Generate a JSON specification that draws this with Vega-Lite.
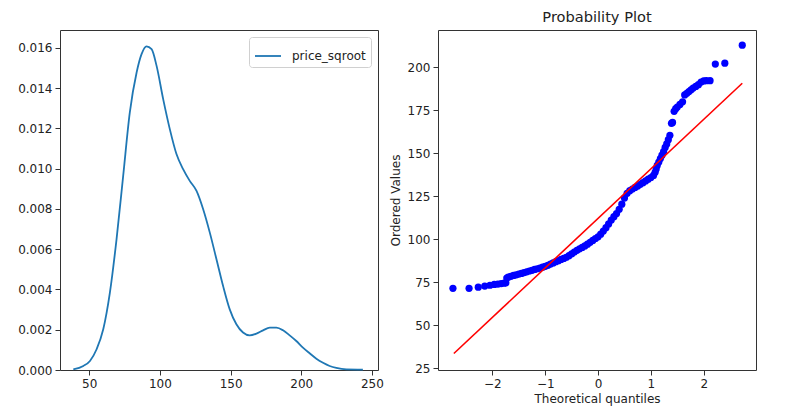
{
  "$schema": "https://vega.github.io/schema/vega-lite/v6.json",
  "background": "white",
  "padding": {"left": 4, "top": 9, "right": 5, "bottom": 5},
  "autosize": {"type": "pad"},
  "config": {
    "font": "DejaVu Sans",
    "view": {"stroke": "#333333", "strokeWidth": 1},
    "axis": {
      "grid": false, "domain": false, "tickColor": "#333333", "tickSize": 5,
      "labelFont": "DejaVu Sans", "labelFontSize": 12, "labelColor": "#222222", "labelPadding": 3,
      "titleFont": "DejaVu Sans", "titleFontSize": 12, "titleFontWeight": "normal", "titleColor": "#222222"
    },
    "title": {"font": "DejaVu Sans", "fontSize": 14.6, "fontWeight": "normal", "color": "#222222", "offset": 5}
  },
  "datasets": {
    "kde": [
      {"x": 38.7, "density": 0.00003, "series": "price_sqroot"},
      {"x": 45.8, "density": 0.0002, "series": "price_sqroot"},
      {"x": 50.5, "density": 0.00045, "series": "price_sqroot"},
      {"x": 55.2, "density": 0.00103, "series": "price_sqroot"},
      {"x": 59.9, "density": 0.00202, "series": "price_sqroot"},
      {"x": 64.6, "density": 0.00384, "series": "price_sqroot"},
      {"x": 69.3, "density": 0.00649, "series": "price_sqroot"},
      {"x": 74.0, "density": 0.00964, "series": "price_sqroot"},
      {"x": 78.7, "density": 0.01279, "series": "price_sqroot"},
      {"x": 83.5, "density": 0.01477, "series": "price_sqroot"},
      {"x": 87.0, "density": 0.01568, "series": "price_sqroot"},
      {"x": 90.5, "density": 0.01607, "series": "price_sqroot"},
      {"x": 94.1, "density": 0.01593, "series": "price_sqroot"},
      {"x": 97.6, "density": 0.01511, "series": "price_sqroot"},
      {"x": 102.3, "density": 0.01345, "series": "price_sqroot"},
      {"x": 107.0, "density": 0.01196, "series": "price_sqroot"},
      {"x": 111.7, "density": 0.01072, "series": "price_sqroot"},
      {"x": 116.4, "density": 0.00997, "series": "price_sqroot"},
      {"x": 121.1, "density": 0.00939, "series": "price_sqroot"},
      {"x": 125.9, "density": 0.00889, "series": "price_sqroot"},
      {"x": 130.6, "density": 0.00798, "series": "price_sqroot"},
      {"x": 135.3, "density": 0.00682, "series": "price_sqroot"},
      {"x": 140.0, "density": 0.0055, "series": "price_sqroot"},
      {"x": 144.7, "density": 0.00417, "series": "price_sqroot"},
      {"x": 149.4, "density": 0.00301, "series": "price_sqroot"},
      {"x": 154.1, "density": 0.00227, "series": "price_sqroot"},
      {"x": 158.8, "density": 0.00186, "series": "price_sqroot"},
      {"x": 163.5, "density": 0.00172, "series": "price_sqroot"},
      {"x": 168.3, "density": 0.00181, "series": "price_sqroot"},
      {"x": 173.0, "density": 0.00197, "series": "price_sqroot"},
      {"x": 177.7, "density": 0.0021, "series": "price_sqroot"},
      {"x": 182.4, "density": 0.0021, "series": "price_sqroot"},
      {"x": 187.1, "density": 0.00197, "series": "price_sqroot"},
      {"x": 191.8, "density": 0.00172, "series": "price_sqroot"},
      {"x": 196.5, "density": 0.00144, "series": "price_sqroot"},
      {"x": 201.2, "density": 0.00111, "series": "price_sqroot"},
      {"x": 205.9, "density": 0.00083, "series": "price_sqroot"},
      {"x": 210.7, "density": 0.00056, "series": "price_sqroot"},
      {"x": 215.4, "density": 0.00036, "series": "price_sqroot"},
      {"x": 220.1, "density": 0.0002, "series": "price_sqroot"},
      {"x": 224.8, "density": 0.0001, "series": "price_sqroot"},
      {"x": 231.9, "density": 0.00003, "series": "price_sqroot"},
      {"x": 243.6, "density": 0.00002, "series": "price_sqroot"}
    ],
    "qq": [
      {"q": -2.747, "v": 71.5}, {"q": -2.442, "v": 71.5}, {"q": -2.268, "v": 72.2}, {"q": -2.145, "v": 72.8},
      {"q": -2.047, "v": 73.3}, {"q": -1.965, "v": 73.8}, {"q": -1.896, "v": 74.0}, {"q": -1.834, "v": 74.3},
      {"q": -1.778, "v": 74.5}, {"q": -1.745, "v": 74.7}, {"q": -1.728, "v": 77.5}, {"q": -1.70, "v": 78.0},
      {"q": -1.65, "v": 78.5}, {"q": -1.60, "v": 79.0}, {"q": -1.55, "v": 79.4}, {"q": -1.50, "v": 79.8},
      {"q": -1.45, "v": 80.2}, {"q": -1.40, "v": 80.7}, {"q": -1.35, "v": 81.1}, {"q": -1.30, "v": 81.6},
      {"q": -1.25, "v": 82.0}, {"q": -1.20, "v": 82.5}, {"q": -1.15, "v": 82.9}, {"q": -1.10, "v": 83.3},
      {"q": -1.05, "v": 83.8}, {"q": -1.00, "v": 84.3}, {"q": -0.95, "v": 84.9}, {"q": -0.90, "v": 85.6},
      {"q": -0.85, "v": 86.3}, {"q": -0.80, "v": 87.0}, {"q": -0.75, "v": 87.6}, {"q": -0.70, "v": 88.3},
      {"q": -0.65, "v": 88.9}, {"q": -0.60, "v": 89.6}, {"q": -0.55, "v": 90.5}, {"q": -0.50, "v": 91.5},
      {"q": -0.45, "v": 92.6}, {"q": -0.40, "v": 93.6}, {"q": -0.35, "v": 94.5}, {"q": -0.30, "v": 95.3},
      {"q": -0.25, "v": 96.2}, {"q": -0.20, "v": 97.2}, {"q": -0.15, "v": 98.3}, {"q": -0.10, "v": 99.4},
      {"q": -0.05, "v": 100.5}, {"q": 0.00, "v": 101.5}, {"q": 0.05, "v": 103.0}, {"q": 0.10, "v": 104.8},
      {"q": 0.15, "v": 106.8}, {"q": 0.20, "v": 109.0}, {"q": 0.25, "v": 111.2}, {"q": 0.30, "v": 113.2},
      {"q": 0.35, "v": 115.0}, {"q": 0.40, "v": 117.5}, {"q": 0.45, "v": 120.5}, {"q": 0.50, "v": 124.0},
      {"q": 0.55, "v": 126.8}, {"q": 0.60, "v": 128.3}, {"q": 0.65, "v": 129.3}, {"q": 0.70, "v": 130.2},
      {"q": 0.75, "v": 131.0}, {"q": 0.80, "v": 132.0}, {"q": 0.85, "v": 133.0}, {"q": 0.90, "v": 134.0},
      {"q": 0.95, "v": 135.0}, {"q": 1.00, "v": 136.0}, {"q": 1.05, "v": 137.2}, {"q": 1.08, "v": 139.0},
      {"q": 1.10, "v": 141.0}, {"q": 1.12, "v": 143.0}, {"q": 1.15, "v": 145.0}, {"q": 1.18, "v": 147.0},
      {"q": 1.21, "v": 149.0}, {"q": 1.24, "v": 151.0}, {"q": 1.27, "v": 153.5}, {"q": 1.30, "v": 155.5},
      {"q": 1.33, "v": 158.0}, {"q": 1.36, "v": 160.5}, {"q": 1.39, "v": 167.5}, {"q": 1.41, "v": 168.0},
      {"q": 1.44, "v": 174.5}, {"q": 1.47, "v": 176.0}, {"q": 1.50, "v": 177.0}, {"q": 1.55, "v": 178.5},
      {"q": 1.60, "v": 180.0}, {"q": 1.64, "v": 184.0}, {"q": 1.68, "v": 185.0}, {"q": 1.72, "v": 186.0},
      {"q": 1.76, "v": 187.0}, {"q": 1.80, "v": 188.0}, {"q": 1.85, "v": 189.0}, {"q": 1.90, "v": 190.0},
      {"q": 1.95, "v": 191.5}, {"q": 2.00, "v": 192.2}, {"q": 2.05, "v": 192.3}, {"q": 2.12, "v": 192.3},
      {"q": 2.22, "v": 202.0}, {"q": 2.40, "v": 202.5}, {"q": 2.73, "v": 213.0}
    ],
    "fit": [
      {"q": -2.73, "v": 33.6},
      {"q": 2.73, "v": 190.8}
    ]
  },
  "spacing": 60,
  "bounds": "flush",
  "resolve": {"legend": {"color": "independent"}, "scale": {"color": "independent"}},
  "hconcat": [
    {
      "width": 318,
      "height": 340,
      "view": {"stroke": "#333333", "strokeWidth": 1},
      "data": {"name": "kde"},
      "mark": {"type": "line", "interpolate": "monotone", "strokeWidth": 1.8},
      "encoding": {
        "x": {"field": "x", "type": "quantitative",
              "scale": {"domain": [29.3, 254.3], "nice": false, "zero": false},
              "axis": {"title": null, "values": [50, 100, 150, 200, 250]}},
        "y": {"field": "density", "type": "quantitative",
              "scale": {"domain": [0, 0.01688], "nice": false},
              "axis": {"title": null, "values": [0, 0.002, 0.004, 0.006, 0.008, 0.01, 0.012, 0.014, 0.016], "format": ".3f", "minExtent": 55, "maxExtent": 55}},
        "color": {"field": "series", "type": "nominal",
                  "scale": {"range": ["#1f77b4"]},
                  "legend": {"title": null, "orient": "top-right", "offset": 7, "padding": 5,
                             "fillColor": "white", "strokeColor": "#d0d0d0", "cornerRadius": 3,
                             "symbolType": "stroke", "symbolSize": 676, "symbolStrokeWidth": 1.8,
                             "labelFont": "DejaVu Sans", "labelFontSize": 12, "labelColor": "#222222", "labelOffset": 10}}
      }
    },
    {
      "width": 318,
      "height": 340,
      "view": {"stroke": "#333333", "strokeWidth": 1},
      "title": "Probability Plot",
      "layer": [
        {
          "data": {"name": "qq"},
          "mark": {"type": "circle", "size": 52, "opacity": 1, "color": "#0000ff"},
          "encoding": {
            "x": {"field": "q", "type": "quantitative",
                  "scale": {"domain": [-3.03, 2.99], "nice": false, "zero": false},
                  "axis": {"title": "Theoretical quantiles", "values": [-2, -1, 0, 1, 2], "titlePadding": 4}},
            "y": {"field": "v", "type": "quantitative",
                  "scale": {"domain": [24, 221.8], "nice": false, "zero": false},
                  "axis": {"title": "Ordered Values", "values": [25, 50, 75, 100, 125, 150, 175, 200], "titlePadding": 5}}
          }
        },
        {
          "data": {"name": "fit"},
          "mark": {"type": "line", "color": "#ff0000", "strokeWidth": 1.6},
          "encoding": {
            "x": {"field": "q", "type": "quantitative"},
            "y": {"field": "v", "type": "quantitative"}
          }
        }
      ]
    }
  ]
}
